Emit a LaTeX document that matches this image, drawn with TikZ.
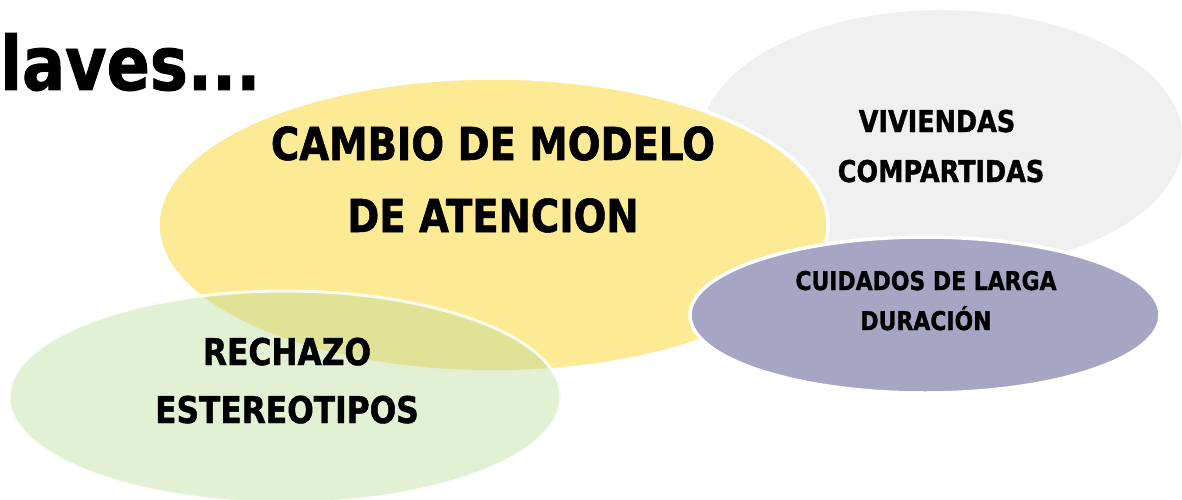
\documentclass[tikz,border=0pt]{standalone}
\usepackage{fontspec}
\newfontfamily\tfont{DejaVu Sans}[FakeStretch=0.85, BoldFeatures={FakeBold=1.2}]
\usetikzlibrary{shapes.geometric}
\definecolor{ygold}{RGB}{252,234,148}
\definecolor{lgray}{RGB}{240,240,240}
\definecolor{lpurple}{RGB}{166,165,196}
\definecolor{lgreen}{RGB}{186,219,152}
\begin{document}
\begin{tikzpicture}[x=1pt,y=-1pt,
  blob/.style={ellipse, inner sep=0pt},
  rim/.style={draw=white, line width=3.5pt},
  lbl/.style={anchor=base, inner sep=0pt, text=black}]
\useasboundingbox (0,0) rectangle (1182,500);
% ellipses
\node[blob, fill=lgray, minimum width=482pt, minimum height=260pt] (viv) at (942,140) {};
\node[blob, rim, fill=ygold, minimum width=670pt, minimum height=294pt] (cam) at (493,225) {};
\node[blob, fill=lgreen, fill opacity=0.42, draw=white, draw opacity=0.85, line width=3pt,
      minimum width=552pt, minimum height=212pt] (rec) at (285,397) {};
\node[blob, rim, fill=lpurple, minimum width=470pt, minimum height=156pt] (cui) at (925,315) {};
% title
\node[anchor=base west, inner sep=0pt, font=\tfont\bfseries\fontsize{75pt}{80pt}\selectfont] (tit) at (0,90) {laves...};
% labels
\node[lbl, font=\tfont\bfseries\fontsize{45.4pt}{54pt}\selectfont] (c1) at (493,160) {CAMBIO DE MODELO};
\node[lbl, font=\tfont\bfseries\fontsize{45.4pt}{54pt}\selectfont] (c2) at (493,232) {DE ATENCION};
\node[lbl, font=\tfont\bfseries\fontsize{30pt}{36pt}\selectfont] (v1) at (937,132) {VIVIENDAS};
\node[lbl, font=\tfont\bfseries\fontsize{30pt}{36pt}\selectfont] (v2) at (941,182) {COMPARTIDAS};
\node[lbl, font=\tfont\bfseries\fontsize{25.8pt}{30pt}\selectfont] (u1) at (926,290) {CUIDADOS DE LARGA};
\node[lbl, font=\tfont\bfseries\fontsize{25.8pt}{30pt}\selectfont] (u2) at (926,330) {DURACIÓN};
\node[lbl, font=\tfont\bfseries\fontsize{36.8pt}{44pt}\selectfont] (r1) at (287,365) {RECHAZO};
\node[lbl, font=\tfont\bfseries\fontsize{36.8pt}{44pt}\selectfont] (r2) at (287,423) {ESTEREOTIPOS};
\end{tikzpicture}
\end{document}
